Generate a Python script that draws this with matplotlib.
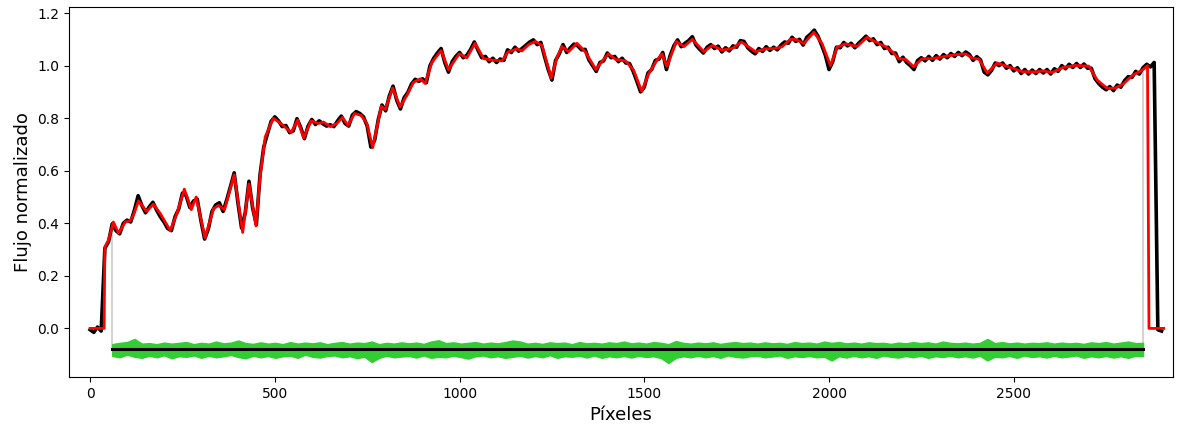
import numpy as np
import matplotlib
matplotlib.use("Agg")
import matplotlib.pyplot as plt

# Fitted model (red)
model_x = [0, 38, 40, 50, 63, 77, 95, 108, 117, 131, 153, 171, 190, 217, 235, 255, 274, 287,
           311, 334, 347, 364, 390, 413, 430, 449, 460, 474, 496, 519, 544, 562, 578, 598,
           618, 632, 650, 668, 683, 698, 716, 734, 749, 765, 788, 799, 819, 839, 858, 875,
           894, 907, 925, 950, 970, 999, 1020, 1042, 1065, 1088, 1115, 1131, 1156, 1169,
           1187, 1205, 1223, 1248, 1264, 1277, 1295, 1318, 1340, 1369, 1385, 1403, 1422,
           1449, 1471, 1493, 1512, 1534, 1548, 1561, 1587, 1607, 1630, 1661, 1684, 1710,
           1738, 1763, 1801, 1828, 1855, 1873, 1895, 1909, 1932, 1959, 1981, 2004, 2022,
           2044, 2076, 2103, 2126, 2153, 2171, 2189, 2207, 2229, 2252, 2279, 2306, 2333,
           2370, 2388, 2406, 2428, 2455, 2487, 2523, 2559, 2577, 2604, 2631, 2667, 2703,
           2726, 2753, 2776, 2798, 2821, 2848, 2862, 2866, 2906]
model_y = [0.0, 0.0, 0.31, 0.336, 0.405, 0.362, 0.405, 0.41, 0.43, 0.485, 0.445, 0.473, 0.437,
           0.372, 0.437, 0.530, 0.452, 0.500, 0.345, 0.455, 0.468, 0.452, 0.585, 0.365, 0.550,
           0.390, 0.577, 0.729, 0.800, 0.777, 0.745, 0.793, 0.725, 0.790, 0.780, 0.785, 0.768,
           0.780, 0.803, 0.772, 0.818, 0.810, 0.780, 0.688, 0.845, 0.833, 0.915, 0.843, 0.888,
           0.936, 0.950, 0.932, 1.012, 1.057, 0.985, 1.045, 1.030, 1.085, 1.027, 1.021, 1.018,
           1.052, 1.064, 1.056, 1.080, 1.092, 1.077, 0.953, 1.033, 1.073, 1.053, 1.085, 1.053,
           0.985, 1.015, 1.045, 1.024, 1.018, 0.983, 0.902, 0.970, 1.020, 1.045, 0.997, 1.092,
           1.072, 1.100, 1.053, 1.077, 1.059, 1.065, 1.090, 1.053, 1.064, 1.065, 1.072, 1.100,
           1.100, 1.084, 1.127, 1.084, 1.000, 1.070, 1.083, 1.073, 1.108, 1.090, 1.072, 1.053,
           1.026, 1.024, 0.996, 1.026, 1.027, 1.033, 1.040, 1.045, 1.028, 1.025, 0.972, 1.010,
           0.995, 0.977, 0.976, 0.980, 0.974, 0.992, 1.001, 0.998, 0.945, 0.913, 0.915, 0.932,
           0.963, 0.983, 1.000, 0.0, 0.0]

# Observed normalized flux (black), sampled every 10 pixels from 0 to 2900
flux_x = np.arange(0, 2901, 10)
flux_y = [
    -0.005, -0.015, 0.005, -0.010, 0.305, 0.330, 0.398, 0.372, 0.360, 0.400,
    0.412, 0.405, 0.450, 0.505, 0.468, 0.440, 0.462, 0.480, 0.450, 0.425,
    0.405, 0.380, 0.372, 0.425, 0.455, 0.515, 0.505, 0.460, 0.485, 0.492,
    0.410, 0.340, 0.378, 0.445, 0.470, 0.478, 0.445, 0.490, 0.540, 0.592,
    0.480, 0.382, 0.440, 0.560, 0.458, 0.395, 0.585, 0.690, 0.740, 0.788,
    0.805, 0.790, 0.768, 0.772, 0.745, 0.752, 0.798, 0.765, 0.722, 0.770,
    0.795, 0.776, 0.790, 0.779, 0.770, 0.775, 0.768, 0.790, 0.808, 0.780,
    0.770, 0.812, 0.825, 0.818, 0.805, 0.770, 0.690, 0.715, 0.795, 0.850,
    0.828, 0.885, 0.922, 0.868, 0.835, 0.878, 0.898, 0.930, 0.948, 0.940,
    0.950, 0.935, 1.000, 1.028, 1.048, 1.065, 1.012, 0.975, 1.015, 1.035,
    1.050, 1.030, 1.040, 1.062, 1.090, 1.058, 1.030, 1.035, 1.015, 1.028,
    1.012, 1.025, 1.020, 1.060, 1.050, 1.070, 1.055, 1.066, 1.078, 1.090,
    1.098, 1.080, 1.088, 1.035, 0.985, 0.945, 1.020, 1.045, 1.080, 1.050,
    1.068, 1.082, 1.075, 1.060, 1.062, 1.022, 1.000, 0.978, 1.012, 1.018,
    1.048, 1.030, 1.035, 1.015, 1.028, 1.010, 1.008, 0.978, 0.940, 0.900,
    0.918, 0.972, 0.985, 1.020, 1.025, 1.050, 0.985, 1.038, 1.075, 1.098,
    1.072, 1.085, 1.095, 1.110, 1.078, 1.062, 1.048, 1.070, 1.080, 1.065,
    1.074, 1.052, 1.068, 1.056, 1.075, 1.070, 1.095, 1.092, 1.068, 1.055,
    1.045, 1.065, 1.054, 1.072, 1.058, 1.070, 1.060, 1.078, 1.090, 1.085,
    1.108, 1.092, 1.100, 1.078, 1.108, 1.120, 1.135, 1.112, 1.078, 1.040,
    0.985, 1.015, 1.070, 1.068, 1.088, 1.075, 1.085, 1.068, 1.085, 1.098,
    1.112, 1.095, 1.102, 1.080, 1.088, 1.065, 1.070, 1.046, 1.048, 1.015,
    1.032, 1.012, 1.000, 0.985, 1.020, 1.030, 1.018, 1.035, 1.020, 1.038,
    1.025, 1.042, 1.030, 1.046, 1.035, 1.050, 1.038, 1.052, 1.042, 1.020,
    1.034, 1.022, 0.975, 0.965, 0.982, 1.010, 1.000, 1.010, 0.990, 1.000,
    0.980, 0.992, 0.970, 0.985, 0.968, 0.983, 0.970, 0.985, 0.972, 0.985,
    0.968, 0.988, 0.978, 1.000, 0.988, 1.005, 0.993, 1.008, 0.993, 1.006,
    0.990, 0.990, 0.950, 0.932, 0.918, 0.908, 0.920, 0.905, 0.926, 0.918,
    0.943, 0.958, 0.955, 0.978, 0.968, 0.992, 1.005, 0.995, 1.012, -0.005,
    -0.010]

# Residual band (green), offset below zero: upper and lower envelopes, 140 samples from 60 to 2850
resid_x = np.linspace(60, 2850, 140)
resid_upper = [
    -0.060, -0.055, -0.052, -0.040, -0.058, -0.056, -0.060, -0.054, -0.058, -0.055,
    -0.052, -0.060, -0.055, -0.058, -0.050, -0.057, -0.054, -0.046, -0.056, -0.059,
    -0.053, -0.058, -0.055, -0.060, -0.052, -0.058, -0.054, -0.057, -0.053, -0.060,
    -0.055, -0.052, -0.058, -0.054, -0.056, -0.050, -0.060, -0.055, -0.058, -0.053,
    -0.057, -0.054, -0.059, -0.050, -0.045, -0.056, -0.053, -0.058, -0.055, -0.052,
    -0.058, -0.054, -0.057, -0.052, -0.046, -0.050, -0.058, -0.055, -0.059, -0.053,
    -0.056, -0.054, -0.060, -0.052, -0.057, -0.055, -0.058, -0.053, -0.056, -0.050,
    -0.057, -0.054, -0.058, -0.052, -0.055, -0.060, -0.048, -0.055, -0.058, -0.054,
    -0.057, -0.053, -0.059, -0.055, -0.052, -0.056, -0.054, -0.058, -0.053, -0.057,
    -0.055, -0.059, -0.052, -0.056, -0.054, -0.058, -0.050, -0.055, -0.052, -0.057,
    -0.054, -0.058, -0.053, -0.056, -0.055, -0.059, -0.054, -0.057, -0.052, -0.056,
    -0.053, -0.058, -0.050, -0.055, -0.057, -0.054, -0.058, -0.055, -0.040, -0.056,
    -0.052, -0.057, -0.054, -0.058, -0.055, -0.056, -0.053, -0.058, -0.054, -0.057,
    -0.055, -0.059, -0.053, -0.056, -0.052, -0.058, -0.054, -0.050, -0.056, -0.055]
resid_lower = [
    -0.105, -0.110, -0.100, -0.108, -0.112, -0.104, -0.110, -0.102, -0.114, -0.106,
    -0.108, -0.103, -0.112, -0.104, -0.110, -0.106, -0.101, -0.109, -0.114, -0.104,
    -0.110, -0.105, -0.112, -0.106, -0.104, -0.112, -0.100, -0.108, -0.111, -0.105,
    -0.103, -0.110, -0.106, -0.113, -0.108, -0.128, -0.112, -0.104, -0.110, -0.107,
    -0.105, -0.111, -0.103, -0.112, -0.108, -0.110, -0.104, -0.109, -0.115, -0.106,
    -0.103, -0.110, -0.106, -0.112, -0.108, -0.104, -0.111, -0.105, -0.110, -0.102,
    -0.112, -0.106, -0.108, -0.104, -0.111, -0.103, -0.112, -0.106, -0.110, -0.105,
    -0.111, -0.104, -0.109, -0.106, -0.113, -0.132, -0.112, -0.106, -0.110, -0.104,
    -0.110, -0.105, -0.112, -0.103, -0.108, -0.111, -0.106, -0.104, -0.110, -0.107,
    -0.103, -0.112, -0.106, -0.109, -0.105, -0.110, -0.108, -0.122, -0.106, -0.111,
    -0.104, -0.110, -0.106, -0.112, -0.103, -0.108, -0.111, -0.105, -0.110, -0.104,
    -0.112, -0.106, -0.109, -0.104, -0.110, -0.106, -0.111, -0.104, -0.122, -0.108,
    -0.110, -0.105, -0.112, -0.103, -0.109, -0.106, -0.111, -0.104, -0.110, -0.107,
    -0.103, -0.112, -0.106, -0.110, -0.105, -0.111, -0.106, -0.112, -0.104, -0.105]

# Fit region limits and residual baseline
fit_edges = [59, 2850]
fit_edge_tops = [0.37, 0.976]
resid_offset = -0.08

fig = plt.figure(figsize=(11.84, 4.25), dpi=100)
ax = fig.add_axes([0.0583, 0.1129, 0.9324, 0.8706])

ax.vlines(fit_edges, resid_offset, fit_edge_tops, color="lightgray", linewidth=1.5, zorder=1)
ax.fill_between(resid_x, resid_lower, resid_upper, color="limegreen", linewidth=1.0,
                edgecolor="limegreen", zorder=2)
ax.plot([fit_edges[0], fit_edges[1]], [resid_offset, resid_offset], color="black",
        linewidth=2.2, zorder=3)
ax.plot(flux_x, flux_y, color="black", linewidth=2.6, zorder=4)
ax.plot(model_x, model_y, color="red", linewidth=2.0, zorder=5)

ax.set_xlim(-57, 2931)
ax.set_ylim(-0.185, 1.223)
ax.set_xticks([0, 500, 1000, 1500, 2000, 2500])
ax.set_yticks([0.0, 0.2, 0.4, 0.6, 0.8, 1.0, 1.2])
ax.tick_params(labelsize=10)
ax.set_xlabel("Píxeles", fontsize=13)
ax.set_ylabel("Flujo normalizado", fontsize=13)

fig.savefig("out.png", dpi=100)
